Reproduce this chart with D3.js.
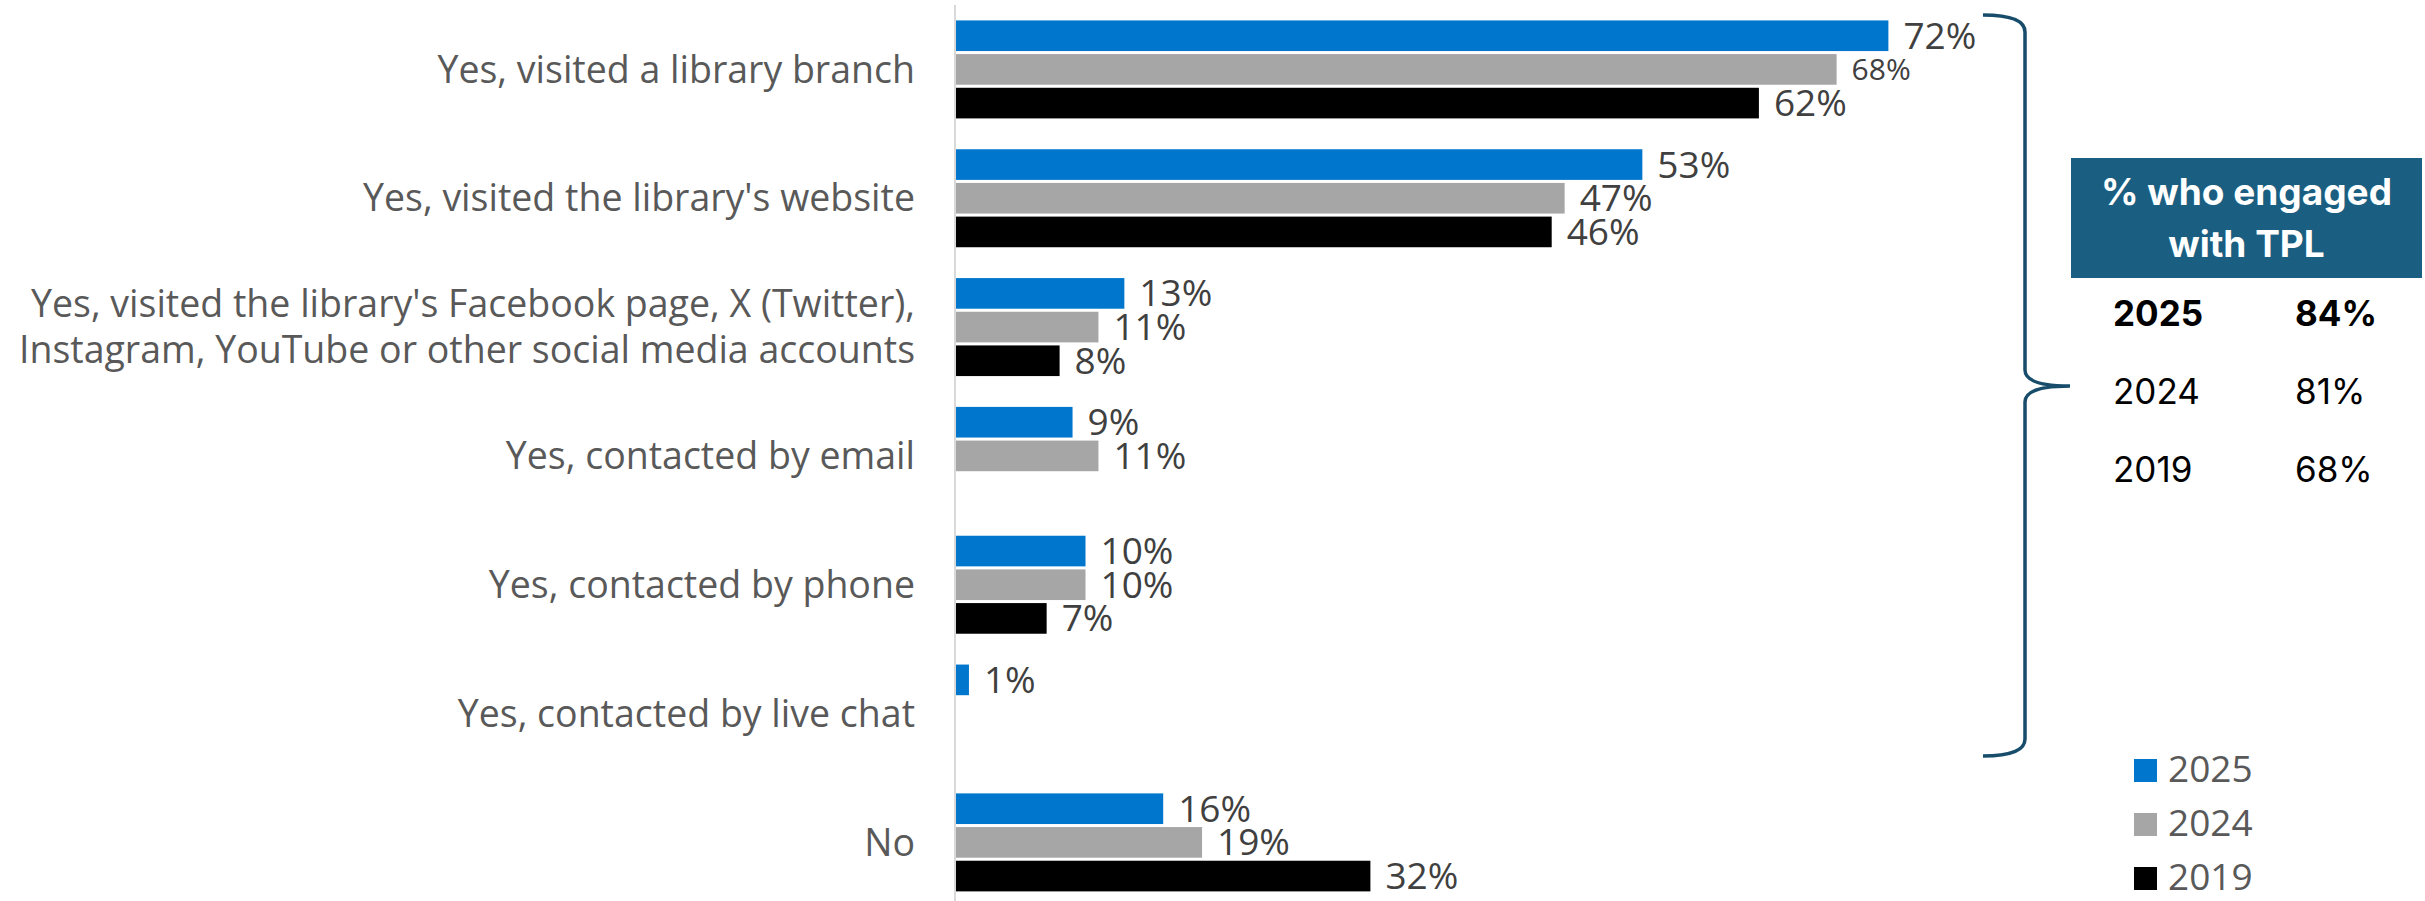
<!DOCTYPE html>
<html>
<head>
<meta charset="utf-8">
<script src="https://cdn.jsdelivr.net/npm/d3@7"></script>
<style>
  html, body { margin: 0; padding: 0; background: #ffffff; }
  svg { display: block; }
</style>
</head>
<body>
<svg id="chart" width="2425" height="901"></svg>
<script>
// Survey answers (one line per entry in each label)
const categories = [
  ["Yes, visited a library branch"],
  ["Yes, visited the library's website"],
  ["Yes, visited the library's Facebook page, X (Twitter),", "Instagram, YouTube or other social media accounts"],
  ["Yes, contacted by email"],
  ["Yes, contacted by phone"],
  ["Yes, contacted by live chat"],
  ["No"]
];

const seriesNames = ["2025", "2024", "2019"];

// Percentages per answer; null = not asked that year
const values2025 = [72, 53, 13, 9, 10, 1, 16];
const values2024 = [68, 47, 11, 11, 10, null, 19];
const values2019 = [62, 46, 8, null, 7, null, 32];

// Summary table: share who engaged with TPL at all
const summaryYears = ["2025", "2024", "2019"];
const summaryValues = ["84%", "81%", "68%"];

const colors = { "2025": "#0077CC", "2024": "#A6A6A6", "2019": "#000000" };

const svg = d3.select("#chart");
const W = 2425, H = 901;
const catKeys = categories.map(c => c.join(" "));
const seriesValues = { "2025": values2025, "2024": values2024, "2019": values2019 };

// Scales
const x = d3.scaleLinear().domain([0, 100]).range([956, 956 + 1295]);
const y0 = d3.scaleBand().domain(catKeys).range([5, 906.8]).padding(0);
const groupH = 98;
const y1 = d3.scaleBand().domain(seriesNames).range([0, groupH]).paddingInner(0.09);

// Flattened bar records
const bars = [];
catKeys.forEach((k, i) => {
  seriesNames.forEach(s => {
    const v = seriesValues[s][i];
    if (v !== null && v !== undefined) bars.push({ cat: k, series: s, value: v });
  });
});
const groupTop = k => y0(k) + y0.bandwidth() / 2 - groupH / 2;

// Vertical baseline
svg.append("line")
  .attr("x1", x(0) - 1).attr("x2", x(0) - 1)
  .attr("y1", 5).attr("y2", H)
  .attr("stroke", "#d9d9d9").attr("stroke-width", 2);

// Bars
svg.append("g").selectAll("rect")
  .data(bars)
  .join("rect")
  .attr("x", x(0))
  .attr("y", d => groupTop(d.cat) + y1(d.series))
  .attr("width", d => x(d.value) - x(0))
  .attr("height", y1.bandwidth())
  .attr("fill", d => colors[d.series]);

// Value labels (the 2024 figure for branch visits is set smaller)
const labelSize = d => (d.series === "2024" && d.cat === catKeys[0]) ? 30 : 37;
svg.append("g").selectAll("text")
  .data(bars)
  .join("text")
  .attr("x", d => x(d.value) + 15)
  .attr("y", d => groupTop(d.cat) + y1(d.series) + y1.bandwidth() / 2)
  .attr("dy", "0.35em")
  .attr("font-family", "'Open Sans', 'Noto Sans', sans-serif")
  .attr("font-size", labelSize)
  .attr("fill", "#404040")
  .text(d => d.value + "%");

// Category labels
const catG = svg.append("g");
categories.forEach((lines, i) => {
  const cy = y0(catKeys[i]) + y0.bandwidth() / 2;
  const lh = 46;
  const t = catG.append("text")
    .attr("x", 915)
    .attr("text-anchor", "end")
    .attr("font-family", "'Open Sans', 'Noto Sans', sans-serif")
    .attr("font-size", 37.5)
    .attr("fill", "#595959");
  lines.forEach((ln, j) => {
    t.append("tspan")
      .attr("x", 915)
      .attr("y", cy + (j - (lines.length - 1) / 2) * lh)
      .attr("dy", "0.35em")
      .text(ln);
  });
});

// Brace grouping every "Yes" answer
svg.append("path")
  .attr("d", "M1983,15 Q2025,15 2025,32 L2025,370 Q2025,386 2070,386 Q2025,386 2025,402 L2025,739 Q2025,756 1983,756")
  .attr("fill", "none")
  .attr("stroke", "#174d6b")
  .attr("stroke-width", 3.5);

// Summary table
const tbl = svg.append("g").attr("font-family", "Inter, Roboto, sans-serif");
tbl.append("rect")
  .attr("x", 2071).attr("y", 158).attr("width", 351).attr("height", 120)
  .attr("fill", "#1a5f82");
tbl.append("text")
  .attr("x", 2246.5).attr("text-anchor", "middle")
  .attr("font-size", 37).attr("font-weight", 700).attr("fill", "#ffffff")
  .selectAll("tspan")
  .data(["% who engaged", "with TPL"])
  .join("tspan")
  .attr("x", 2246.5)
  .attr("y", (d, i) => 205 + i * 52)
  .text(d => d);

const rowBase = [326, 404, 482];
summaryYears.forEach((yr, i) => {
  const bold = i === 0 ? 700 : 400;
  tbl.append("text")
    .attr("x", 2113).attr("y", rowBase[i])
    .attr("font-size", 35).attr("font-weight", bold).attr("fill", "#000000")
    .text(yr);
  tbl.append("text")
    .attr("x", 2295).attr("y", rowBase[i])
    .attr("font-size", 35).attr("font-weight", bold).attr("fill", "#000000")
    .text(summaryValues[i]);
});

// Legend
const leg = svg.append("g")
  .selectAll("g")
  .data(seriesNames)
  .join("g")
  .attr("transform", (d, i) => `translate(2134, ${759 + i * 54})`);
leg.append("rect")
  .attr("width", 23).attr("height", 23)
  .attr("fill", d => colors[d]);
leg.append("text")
  .attr("x", 34).attr("y", 23)
  .attr("font-family", "'Open Sans', 'Noto Sans', sans-serif")
  .attr("font-size", 37)
  .attr("fill", "#595959")
  .text(d => d);
</script>
</body>
</html>
